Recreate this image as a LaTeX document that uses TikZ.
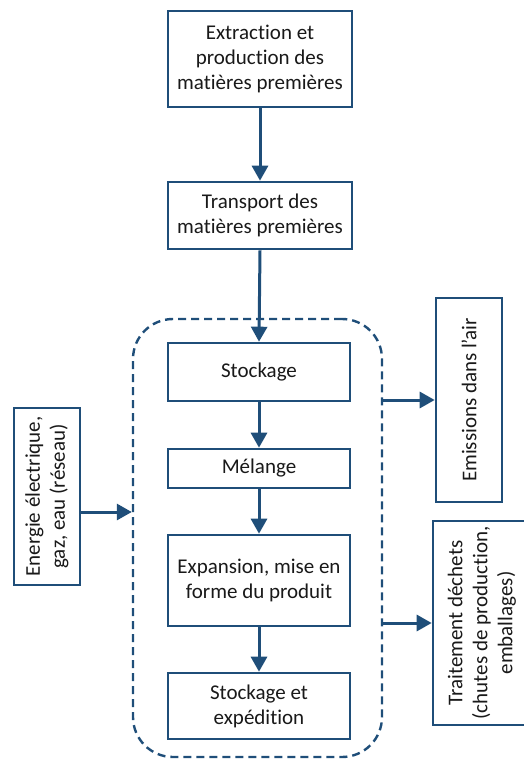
\documentclass[tikz,border=0pt]{standalone}
\usepackage{fontspec}
\setmainfont{Carlito}[Ligatures=NoCommon]
\usetikzlibrary{arrows.meta}
\definecolor{dblue}{RGB}{31,78,121}
\definecolor{txt}{RGB}{25,25,25}
\begin{document}
\begin{tikzpicture}[x=1pt,y=-1pt,
  box/.style={draw=dblue, line width=2.6pt, fill=white, text=txt, align=center,
    inner sep=2pt, font=\fontsize{21}{25}\selectfont},
  vbox/.style={box, rotate=90},
  container/.style={draw=dblue, line width=2.4pt, dash pattern=on 8pt off 5pt, rounded corners=40pt},
  arr/.style={draw=dblue, line width=3pt, -{Triangle[width=16pt,length=15pt]}}]
\useasboundingbox (0,0) rectangle (524,760);
\node[container, minimum width=249pt, minimum height=438pt] (proc) at (257.5,538) {};
\node[box, minimum width=184pt, minimum height=96pt] (extr) at (260,59) {Extraction et\\production des\\matières premières};
\node[box, minimum width=184pt, minimum height=67pt] (trans) at (260,215.5) {Transport des\\matières premières};
\node[box, minimum width=182pt, minimum height=58pt] (stock) at (259,372) {Stockage};
\node[box, minimum width=182pt, minimum height=39pt] (mel) at (259,468.5) {Mélange};
\node[box, minimum width=182pt, minimum height=91pt] (exp) at (259,580.5) {Expansion, mise en\\forme du produit};
\node[box, minimum width=182pt, minimum height=66pt] (stexp) at (259,706) {Stockage et\\expédition};
\node[vbox, minimum width=204pt, minimum height=66pt] (emis) at (469,400) {Emissions dans l’air};
\node[vbox, minimum width=177pt, minimum height=66pt] (ener) at (47,496.5) {Energie électrique,\\gaz, eau (réseau)};
\node[vbox, minimum width=204pt, minimum height=98pt] (trait) at (482,623) {Traitement déchets\\(chutes de production,\\emballages)};
\coordinate (einp) at (133,512);
\draw[arr] (extr.south) -- (trans.north);
\draw[arr] (trans.south) -- (stock.north);
\draw[arr] (stock.south) -- (mel.north);
\draw[arr] (mel.south) -- (exp.north);
\draw[arr] (exp.south) -- (stexp.north);
\draw[arr] (proc.east |- emis.north) -- (emis.north);
\draw[arr] (proc.east |- trait.north) -- (trait.north);
\draw[arr] (ener.south |- einp) -- (proc.west |- einp);
\end{tikzpicture}
\end{document}
